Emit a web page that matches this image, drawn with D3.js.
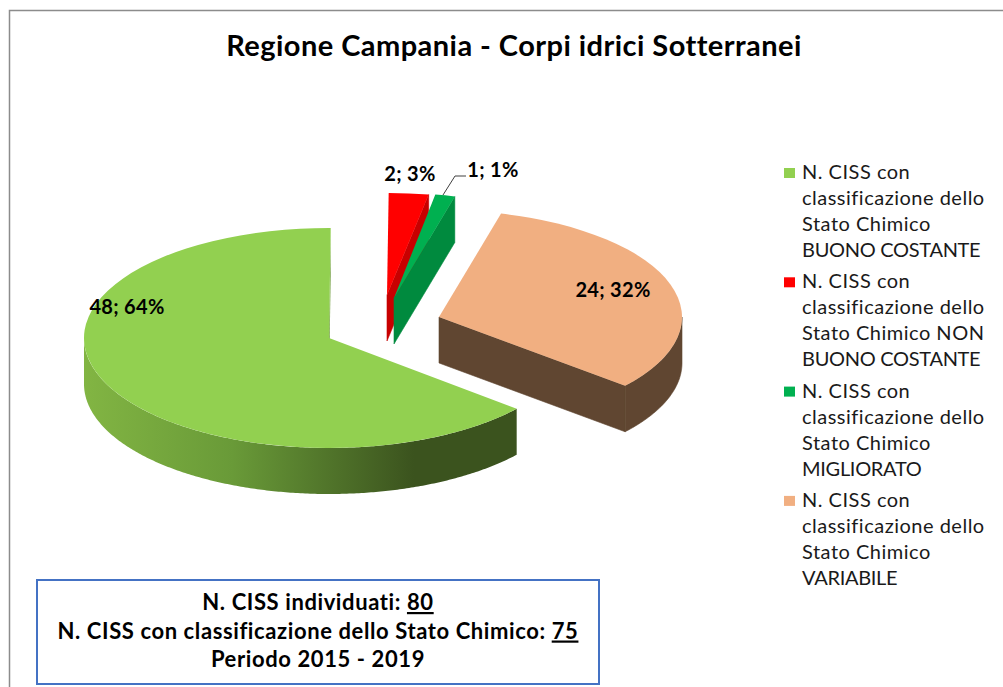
<!DOCTYPE html>
<html>
<head>
<meta charset="utf-8">
<script src="https://cdn.jsdelivr.net/npm/d3@7"></script>
<style>
    html, body { margin: 0; padding: 0; background: #fff; overflow: hidden; }
    svg { display: block; }
    text { font-family: Lato, "Open Sans", sans-serif; fill: #000; }
</style>
</head>
<body>
<svg id="chart" width="1003" height="687"></svg>
<script>
const categories = [
    ['N. CISS con', 'classificazione dello', 'Stato Chimico', 'BUONO COSTANTE'],
    ['N. CISS con', 'classificazione dello', 'Stato Chimico NON', 'BUONO COSTANTE'],
    ['N. CISS con', 'classificazione dello', 'Stato Chimico', 'MIGLIORATO'],
    ['N. CISS con', 'classificazione dello', 'Stato Chimico', 'VARIABILE']
]
const values     = [48, 2, 1, 24]
const topColors  = ['#92D050', '#FF0000', '#00B050', '#F1AF81']
const wallColors = ['url(#wallGreen)', '#C80000', '#008A3E', '#604631']
const title      = 'Regione Campania - Corpi idrici Sotterranei'
const noteLines  = [
    ['N. CISS individuati: ', '80'],
    ['N. CISS con classificazione dello Stato Chimico: ', '75'],
    ['Periodo 2015 - 2019', '']
]

// layout of the tilted pie, the picture has some perspective so radii differ a bit
const depth = 46
const center = { x: 329, y: 338 }
const radiiX = [245, 240, 238, 243]
const radiiY = [110, 102, 105, 107]
const explode = [[0, 0], [58, -43], [65, -40], [110, -21]]
const labelPos = [[127, 314], [410, 181], [493, 177], [613, 297]]

const rad = d => d * Math.PI / 180
const svg = d3.select('#chart')

const grad = svg.append('defs').append('linearGradient')
    .attr('id', 'wallGreen')
    .attr('gradientUnits', 'userSpaceOnUse')
    .attr('x1', -radiiX[0]).attr('x2', 85)
    .attr('y1', 0).attr('y2', 0)
grad.append('stop').attr('offset', 0).attr('stop-color', '#82B543')
grad.append('stop').attr('offset', 0.45).attr('stop-color', '#699A38')
grad.append('stop').attr('offset', 1).attr('stop-color', '#3B531E')

// frame of the chart area, only top and left are in the picture
svg.append('path')
    .attr('d', 'M9.5,687V10.5H1003')
    .attr('fill', 'none')
    .attr('stroke', '#8C8C8C')
    .attr('stroke-width', 1.5)

svg.append('text')
    .attr('x', 514)
    .attr('y', 56)
    .attr('text-anchor', 'middle')
    .style('font-size', '29px')
    .style('letter-spacing', '0.45px')
    .style('font-weight', 'bold')
    .text(title)

const slices = d3.pie()
    .sort(null)
    .startAngle(rad(130))
    .endAngle(rad(490))(values)

// back slices first, the big one comes last
const order = [1, 2, 3, 0]
const pies = svg.selectAll('.slice')
    .data(order.map(i => ({ ...slices[i], i })))
    .enter().append('g')
    .attr('class', 'slice')
    .attr('transform', d => `translate(${center.x + explode[d.i][0]}, ${center.y + explode[d.i][1]})`)

pies.each(function (d) {
    const el = d3.select(this)
    const rx = radiiX[d.i], ry = radiiY[d.i]
    const px = a => rx * Math.sin(a)
    const py = a => -ry * Math.cos(a)
    const arc = d3.arc().innerRadius(0).outerRadius(rx)

    // cut face on the clockwise end, only if it turns to the viewer
    if (Math.sin(d.endAngle) > 0) {
        const x = px(d.endAngle), y = py(d.endAngle)
        el.append('path')
            .attr('d', `M0,0L${x},${y}L${x},${y + depth}L0,${depth}Z`)
            .attr('fill', d.i === 0 ? '#6F9C3C' : wallColors[d.i])
            .attr('stroke', d.i === 0 ? 'none' : wallColors[d.i])
            .attr('stroke-width', 0.6)
    }

    // outer wall, just the front half of the ellipse
    const wrap = d.startAngle >= 2 * Math.PI ? 2 * Math.PI : 0
    const a0 = Math.max(d.startAngle - wrap, rad(90))
    const a1 = Math.min(d.endAngle - wrap, rad(270))
    if (a1 > a0) {
        const steps = d3.range(a0, a1, 0.01).concat(a1)
        const wall = d3.area()
            .x(px)
            .y0(py)
            .y1(a => py(a) + depth)
        el.append('path')
            .attr('d', wall(steps))
            .attr('fill', wallColors[d.i])
            .attr('stroke', d.i === 0 ? 'none' : wallColors[d.i])
            .attr('stroke-width', 0.6)
    }

    el.append('path')
        .attr('d', arc(d))
        .attr('fill', topColors[d.i])
        .attr('transform', `scale(1, ${ry / rx})`)
})

// leader line of the 1; 1% label
svg.append('path')
    .attr('d', d3.line()([[443, 195], [455, 176], [466, 176]]))
    .attr('fill', 'none')
    .attr('stroke', '#404040')
    .attr('stroke-width', 1)

svg.selectAll('.label')
    .data(slices)
    .enter().append('text')
    .attr('class', 'label')
    .attr('x', (d, i) => labelPos[i][0])
    .attr('y', (d, i) => labelPos[i][1])
    .attr('text-anchor', 'middle')
    .style('font-size', '20px')
    .style('letter-spacing', '0.3px')
    .style('font-weight', 'bold')
    .text(d => `${d.value}; ${Math.round(d.value / d3.sum(values) * 100)}%`)

// legend
const legend = svg.selectAll('.legend')
    .data(categories)
    .enter().append('g')
    .attr('class', 'legend')
    .attr('transform', (d, i) => `translate(784, ${168 + i * 109.3})`)

legend.append('rect')
    .attr('width', 11)
    .attr('height', 10)
    .attr('fill', (d, i) => topColors[i])

legend.selectAll('text')
    .data(d => d)
    .enter().append('text')
    .attr('x', 18)
    .attr('y', (d, i) => 11 + i * 26)
    .style('fill', '#1a1a1a')
    .style('font-size', '20px')
    // capitals run wider in Lato than in the picture
    .style('letter-spacing', d => d === d.toUpperCase() ? '-0.3px' : '0.5px')
    .text(d => d)

// note box
svg.append('rect')
    .attr('x', 37)
    .attr('y', 580)
    .attr('width', 562)
    .attr('height', 104)
    .attr('fill', '#fff')
    .attr('stroke', '#4472C4')
    .attr('stroke-width', 2)

const note = svg.selectAll('.note')
    .data(noteLines)
    .enter().append('text')
    .attr('class', 'note')
    .attr('x', 318)
    .attr('y', (d, i) => 610 + i * 28.5)
    .attr('text-anchor', 'middle')
    .style('font-size', '22px')
    .style('letter-spacing', '0.6px')
    .style('font-weight', 'bold')

note.append('tspan').text(d => d[0])
note.append('tspan')
    .style('text-decoration', 'underline')
    .text(d => d[1])
</script>
</body>
</html>
